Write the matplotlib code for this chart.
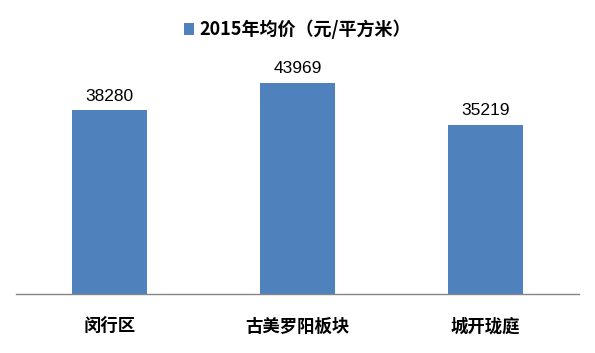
import matplotlib
matplotlib.use('Agg')
import matplotlib.pyplot as plt

plt.rcParams['font.family'] = ['Noto Sans CJK SC', 'DejaVu Sans']
plt.rcParams['axes.unicode_minus'] = False

# 数据
categories = ['闵行区', '古美罗阳板块', '城开珑庭']
prices = [38280, 43969, 35219]
series_name = '2015年均价（元/平方米）'

bar_color = '#4F81BD'

fig = plt.figure(figsize=(5.95, 3.53), dpi=100)
ax = fig.add_axes([16 / 595, 59 / 353, 563 / 595, 240 / 353])

x = range(len(categories))
bars = ax.bar(x, prices, width=0.4, color=bar_color, label=series_name, zorder=2)

ax.set_xlim(-0.5, len(categories) - 0.5)
ax.set_ylim(0, 50000)

# 数值标签
for xi, v in zip(x, prices):
    ax.text(xi, v + 1400, str(v), ha='center', va='bottom', fontsize=12.5,
            family=['Liberation Sans', 'DejaVu Sans'], color='black')

ax.set_xticks(list(x))
ax.set_xticklabels(categories, fontsize=12.5, fontweight='bold')
ax.tick_params(axis='x', length=0, pad=17)
ax.set_yticks([])

for s in ['top', 'right', 'left']:
    ax.spines[s].set_visible(False)
ax.spines['bottom'].set_color('#868686')
ax.spines['bottom'].set_linewidth(1.0)

leg = fig.legend(loc='upper center', bbox_to_anchor=(0.5, 0.99), frameon=False,
                 prop={'size': 13, 'weight': 'bold'}, handlelength=0.6,
                 handleheight=0.6, handletextpad=0.3)

fig.savefig('out.png', dpi=100)
